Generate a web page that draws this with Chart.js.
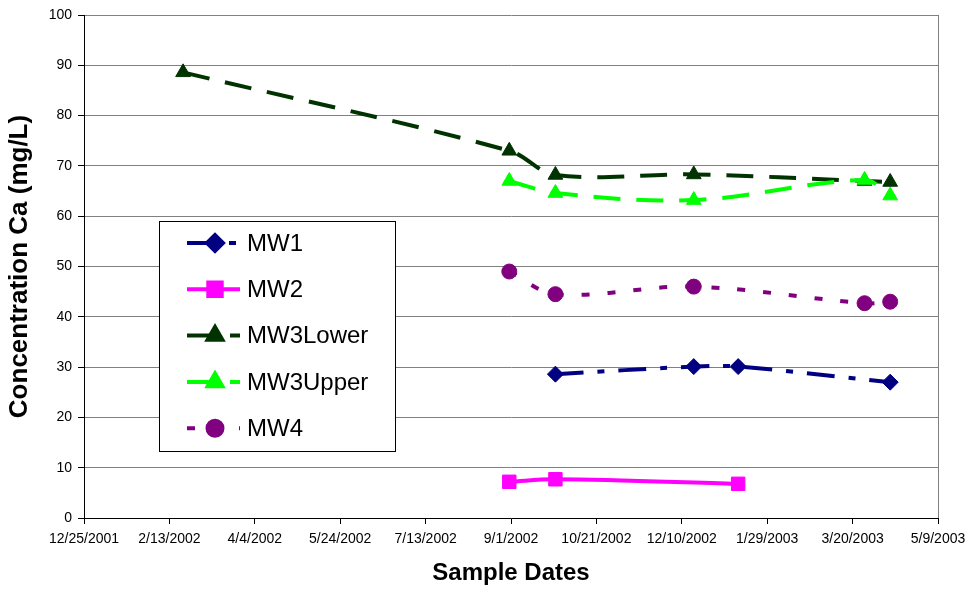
<!DOCTYPE html>
<html>
<head>
<meta charset="utf-8">
<script src="https://cdn.jsdelivr.net/npm/chart.js@4/dist/chart.umd.min.js"></script>
<style>
  html, body { margin: 0; padding: 0; background: #fff; }
  #wrap { width: 979px; height: 592px; }
</style>
</head>
<body>
<div id="wrap"><canvas id="myChart" width="979" height="592"></canvas></div>
<script>
'use strict';

// sample dates and Ca concentrations (mg/L)
let seriesNames = ['MW1', 'MW2', 'MW3Lower', 'MW3Upper', 'MW4'];

let mw1Dates = ['9/27/2002', '12/17/2002', '1/12/2003', '4/11/2003'];
let mw1Values = [28.6, 30.1, 30.1, 27.0];

let mw2Dates = ['8/31/2002', '9/27/2002', '1/12/2003'];
let mw2Values = [7.2, 7.7, 6.8];

let mw3LowerDates = ['2/21/2002', '8/31/2002', '9/27/2002', '12/17/2002', '3/27/2003', '4/11/2003'];
let mw3LowerValues = [88.6, 73.0, 68.2, 68.3, 67.0, 66.8];

let mw3UpperDates = ['8/31/2002', '9/27/2002', '12/17/2002', '3/27/2003', '4/11/2003'];
let mw3UpperValues = [67.0, 64.6, 63.2, 67.2, 64.1];

let mw4Dates = ['8/31/2002', '9/27/2002', '12/17/2002', '3/27/2003', '4/11/2003'];
let mw4Values = [49.0, 44.5, 46.0, 42.7, 43.0];

// x axis: days counted from the first tick date
let startDate = '12/25/2001';
let xTickStep = 50;
let xTickCount = 10;
let yTicks = [0, 10, 20, 30, 40, 50, 60, 70, 80, 90, 100];

const FONT = 'Arial, "Liberation Sans", sans-serif';
const DAY = 24 * 60 * 60 * 1000;

function parseDate(s) {
  let p = s.split('/');
  return Date.UTC(+p[2], +p[0] - 1, +p[1]);
}
let startMs = parseDate(startDate);

function toDays(s) {
  return Math.round((parseDate(s) - startMs) / DAY);
}

function fmtDate(days) {
  let d = new Date(startMs + days * DAY);
  return (d.getUTCMonth() + 1) + '/' + d.getUTCDate() + '/' + d.getUTCFullYear();
}

function toPoints(dates, values) {
  return dates.map((d, i) => ({ x: toDays(d), y: values[i] }));
}

let styles = [
  { color: '#000080', dash: [28, 14, 7, 14], point: 'rectRot', radius: 8 },
  { color: '#FF00FF', dash: [], point: 'rect', radius: 9.5 },
  { color: '#003300', dash: [27, 16], point: 'triangle', radius: 8.5 },
  { color: '#00FF00', dash: [27, 16], point: 'triangle', radius: 8.5 },
  { color: '#800080', dash: [8, 18], point: 'circle', radius: 7.5 },
];

let allDates = [mw1Dates, mw2Dates, mw3LowerDates, mw3UpperDates, mw4Dates];
let allValues = [mw1Values, mw2Values, mw3LowerValues, mw3UpperValues, mw4Values];

let datasets = seriesNames.map((name, i) => ({
  label: name,
  data: toPoints(allDates[i], allValues[i]),
  borderColor: styles[i].color,
  backgroundColor: styles[i].color,
  borderWidth: 4,
  borderDash: styles[i].dash,
  tension: 0.35,
  pointStyle: styles[i].point,
  pointRadius: styles[i].radius,
  pointBorderWidth: 1,
  pointBackgroundColor: styles[i].color,
  pointBorderColor: styles[i].color,
  // later series drawn on top, like the original
  order: seriesNames.length - i,
}));

// legend box drawn inside the plot area
const boxLegend = {
  id: 'boxLegend',
  afterDatasetsDraw(chart) {
    let ctx = chart.ctx;
    let area = chart.chartArea;
    let left = area.left + 75;
    let top = area.top + 206;
    let w = 236;
    let h = 230;
    ctx.save();
    ctx.fillStyle = '#fff';
    ctx.fillRect(left, top, w, h);
    ctx.strokeStyle = '#000';
    ctx.lineWidth = 1;
    ctx.setLineDash([]);
    ctx.strokeRect(left + 0.5, top + 0.5, w, h);

    chart.data.datasets.forEach((ds, i) => {
      let y = top + 22 + i * 46.3;
      ctx.save();
      ctx.strokeStyle = ds.borderColor;
      ctx.lineWidth = 4;
      ctx.setLineDash(ds.borderDash);
      ctx.beginPath();
      ctx.moveTo(left + 28, y);
      ctx.lineTo(left + 81, y);
      ctx.stroke();
      ctx.setLineDash([]);
      ctx.fillStyle = ds.pointBackgroundColor;
      ctx.strokeStyle = ds.pointBorderColor;
      Chart.helpers.drawPoint(ctx, {
        pointStyle: ds.pointStyle,
        radius: ds.pointRadius,
        rotation: 0,
        borderWidth: 1,
      }, left + 56, y);
      ctx.restore();

      ctx.fillStyle = '#000';
      ctx.font = '24px ' + FONT;
      ctx.textBaseline = 'middle';
      ctx.textAlign = 'left';
      ctx.fillText(ds.label, left + 88, y + 1);
    });
    ctx.restore();
  },
  afterDraw(chart) {
    // gray frame on the right side of the plot
    let ctx = chart.ctx;
    let area = chart.chartArea;
    ctx.save();
    ctx.strokeStyle = '#808080';
    ctx.lineWidth = 1;
    ctx.beginPath();
    ctx.moveTo(Math.round(area.right) + 0.5, area.top);
    ctx.lineTo(Math.round(area.right) + 0.5, area.bottom);
    ctx.stroke();
    ctx.restore();
  },
};

let ctx = document.getElementById('myChart').getContext('2d');
new Chart(ctx, {
  type: 'line',
  data: { datasets: datasets },
  options: {
    responsive: false,
    animation: false,
    layout: { padding: { top: 15, right: 41, bottom: 0, left: 0 } },
    plugins: {
      legend: { display: false },
      tooltip: { enabled: false },
    },
    scales: {
      x: {
        type: 'linear',
        min: 0,
        max: xTickStep * xTickCount,
        afterFit(scale) { scale.height = 74; },
        ticks: {
          stepSize: xTickStep,
          maxRotation: 0,
          autoSkip: false,
          padding: 7,
          color: '#000',
          font: { family: FONT, size: 14 },
          callback: (v) => fmtDate(v),
        },
        grid: {
          drawOnChartArea: false,
          drawTicks: true,
          tickLength: 6,
          color: '#000',
        },
        border: { color: '#000', width: 1 },
        title: {
          display: true,
          text: 'Sample Dates',
          color: '#000',
          font: { family: FONT, size: 24, weight: 'bold' },
          padding: { top: 0, bottom: 4 },
        },
      },
      y: {
        min: yTicks[0],
        max: yTicks[yTicks.length - 1],
        afterFit(scale) { scale.width = 84; },
        afterBuildTicks(scale) { scale.ticks = yTicks.map((v) => ({ value: v })); },
        ticks: {
          padding: 6,
          color: '#000',
          font: { family: FONT, size: 14 },
        },
        grid: {
          color: '#808080',
          tickColor: '#000',
          tickLength: 6,
          lineWidth: 1,
        },
        border: { color: '#000', width: 1 },
        title: {
          display: true,
          text: 'Concentration Ca (mg/L)',
          color: '#000',
          font: { family: FONT, size: 26, weight: 'bold' },
          padding: { top: 4, bottom: 0 },
        },
      },
    },
  },
  plugins: [boxLegend],
});
</script>
</body>
</html>
